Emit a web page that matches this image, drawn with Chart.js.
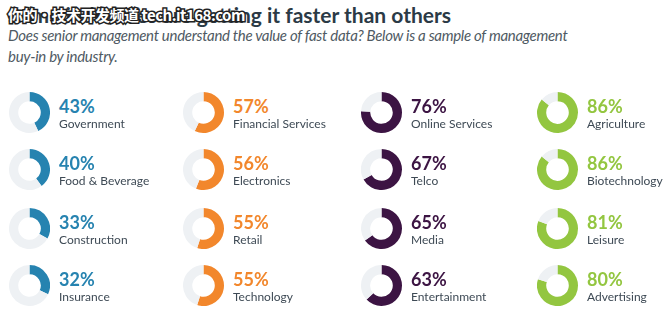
<!DOCTYPE html>
<html>
<head>
<meta charset="utf-8">
<script src="https://cdn.jsdelivr.net/npm/chart.js@4"></script>
<style>
  body { margin: 0; width: 670px; height: 323px; background: #fff; overflow: hidden; position: relative; font-family: Lato, "Open Sans", sans-serif; }
  .title { position: absolute; left: 8px; top: 2px; font-size: 21px; font-weight: bold; color: #2b3a46; white-space: nowrap; line-height: 26px; }
  .mark { position: absolute; left: 8px; top: 6px; font-size: 15px; line-height: 17px; font-weight: bold; color: #fff; white-space: nowrap;
          font-family: "Noto Sans CJK SC", sans-serif; -webkit-text-stroke: 3px #222; paint-order: stroke fill; letter-spacing: -0.5px; }
  .sub { position: absolute; left: 8px; top: 25px; font-size: 15px; font-style: italic; color: #4f5a63; line-height: 21px; letter-spacing: -0.3px; white-space: nowrap; }
  .item { position: absolute; }
  .item canvas { position: absolute; left: 0; top: 0; }
  .pct { position: absolute; left: 50px; top: 7px; font-size: 18px; line-height: 15px; font-weight: bold; white-space: nowrap; }
  .lab { position: absolute; left: 50px; top: 26px; font-size: 12px; line-height: 12px; color: #3e4a55; white-space: nowrap; }
</style>
</head>
<body>
<div class="title">Some industries are getting it faster than others</div>
<div class="mark">你的·技术开发频道 tech.it168.com</div>
<div class="sub">Does senior management understand the value of fast data? Below is a sample of management<br>buy-in by industry.</div>
<div id="grid"></div>
<script>
var groupLabels = [
  ['Government', 'Food & Beverage', 'Construction', 'Insurance'],
  ['Financial Services', 'Electronics', 'Retail', 'Technology'],
  ['Online Services', 'Telco', 'Media', 'Entertainment'],
  ['Agriculture', 'Biotechnology', 'Leisure', 'Advertising']
];
var groupValues = [
  [43, 40, 33, 32],
  [57, 56, 55, 55],
  [76, 67, 65, 63],
  [86, 86, 81, 80]
];
var groupColors = ['#2683b0', '#f2872c', '#3c1443', '#93c640'];
var trackColor = '#eef1f4';

var colX = [9, 183, 361, 537];
var rowY = [92, 149, 208, 265];
var size = 41;

var grid = document.getElementById('grid');
for (var c = 0; c < 4; c++) {
  for (var r = 0; r < 4; r++) {
    var v = groupValues[c][r];
    var item = document.createElement('div');
    item.className = 'item';
    item.style.left = colX[c] + 'px';
    item.style.top = rowY[r] + 'px';
    var cv = document.createElement('canvas');
    cv.width = size; cv.height = size;
    cv.style.width = size + 'px'; cv.style.height = size + 'px';
    item.appendChild(cv);
    var pct = document.createElement('div');
    pct.className = 'pct';
    pct.style.color = groupColors[c];
    pct.textContent = v + '%';
    item.appendChild(pct);
    var lab = document.createElement('div');
    lab.className = 'lab';
    lab.textContent = groupLabels[c][r];
    item.appendChild(lab);
    grid.appendChild(item);

    new Chart(cv.getContext('2d'), {
      type: 'doughnut',
      data: {
        labels: [groupLabels[c][r], ''],
        datasets: [{
          data: [v, 100 - v],
          backgroundColor: [groupColors[c], trackColor],
          borderWidth: 0
        }]
      },
      options: {
        responsive: false,
        animation: false,
        cutout: '55%',
        plugins: { legend: { display: false }, tooltip: { enabled: false } }
      }
    });
  }
}
</script>
</body>
</html>
